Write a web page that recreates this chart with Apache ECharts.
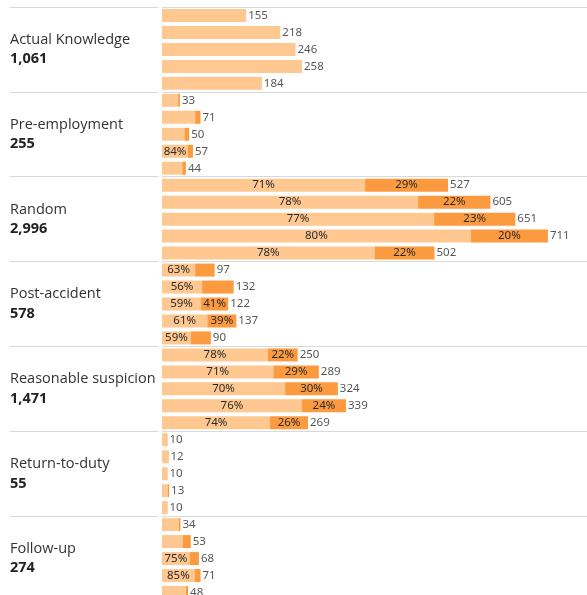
<!DOCTYPE html>
<html>
<head>
<meta charset="utf-8">
<script src="https://cdn.jsdelivr.net/npm/echarts@6/dist/echarts.min.js"></script>
<style>
html,body{margin:0;padding:0;background:#fff;overflow:hidden;}
#c{width:587px;height:602px;}
</style>
</head>
<body>
<div id="c"></div>
<script>
// ---- data ----
const groups = ['Actual Knowledge','Pre-employment','Random','Post-accident','Reasonable suspicion','Return-to-duty','Follow-up'];
const actualKnowledge = [155,218,246,258,184];
const preEmployment = [33,71,50,57,44];
const random = [527,605,651,711,502];
const postAccident = [97,132,122,137,90];
const reasonableSuspicion = [250,289,324,339,269];
const returnToDuty = [10,12,10,13,10];
const followUp = [34,53,68,71,48];
// share (%) of the lighter segment
const pctActualKnowledge = [100,100,100,100,100];
const pctPreEmployment = [90,86,83,84,85];
const pctRandom = [71,78,77,80,78];
const pctPostAccident = [63,56,59,61,59];
const pctReasonableSuspicion = [78,71,70,76,74];
const pctReturnToDuty = [90,88,90,85,90];
const pctFollowUp = [91,73,75,85,92];
// which percentage labels are displayed (1 = shown)
const lightShown = [[0,0,0,0,0],[0,0,0,1,0],[1,1,1,1,1],[1,1,1,1,1],[1,1,1,1,1],[0,0,0,0,0],[0,0,1,1,0]];
const darkShown  = [[0,0,0,0,0],[0,0,0,0,0],[1,1,1,1,1],[0,0,1,1,0],[1,1,1,1,1],[0,0,0,0,0],[0,0,0,0,0]];

const counts = [actualKnowledge,preEmployment,random,postAccident,reasonableSuspicion,returnToDuty,followUp];
const pcts = [pctActualKnowledge,pctPreEmployment,pctRandom,pctPostAccident,pctReasonableSuspicion,pctReturnToDuty,pctFollowUp];

const LIGHT = '#FFC891', DARK = '#FC9A3F';
const cats = [], lightData = [], darkData = [], totalData = [];
counts.forEach((arr, g) => {
  arr.forEach((v, i) => {
    const idx = cats.length;
    cats.push(g + '-' + i);
    const p = pcts[g][i];
    const lv = v * p / 100;
    lightData.push({value: lv, pct: p, label: {show: !!lightShown[g][i]}});
    darkData.push({value: v - lv, pct: 100 - p, label: {show: !!darkShown[g][i]}});
    totalData.push({value: [v, idx], total: v});
  });
});
const groupTotals = counts.map(a => a.reduce((s, x) => s + x, 0));

const labelFont = {fontFamily: 'Noto Sans', fontSize: 11.5, color: '#2a2a2a'};

const chart = echarts.init(document.getElementById('c'), null, {renderer: 'canvas'});
chart.setOption({
  animation: false,
  grid: [
    {left: 162, right: 0, top: 7, height: 594},
    {left: 10, width: 148, top: 7, height: 594}
  ],
  xAxis: [
    {type: 'value', min: 0, max: 783, show: false, gridIndex: 0},
    {type: 'value', min: 0, max: 1, show: false, gridIndex: 1}
  ],
  yAxis: [
    {type: 'category', data: cats, inverse: true, show: false, gridIndex: 0},
    {type: 'category', data: groups, inverse: true, gridIndex: 0,
      axisLine: {show: false}, axisTick: {show: false}, axisLabel: {show: false},
      splitLine: {show: true, lineStyle: {color: '#d9d9d9', width: 1}}},
    {type: 'category', data: groups, inverse: true, gridIndex: 1,
      axisLine: {show: false}, axisTick: {show: false},
      splitLine: {show: true, lineStyle: {color: '#d9d9d9', width: 1}},
      axisLabel: {
        inside: true, margin: 0, align: 'left',
        formatter: (val, i) => '{n|' + val + '}\n{v|' + groupTotals[i].toLocaleString('en-US') + '}',
        rich: {
          n: {fontFamily: 'Open Sans', fontSize: 14.5, color: '#333', lineHeight: 19.5},
          v: {fontFamily: 'Open Sans', fontSize: 14.5, fontWeight: 'bold', color: '#222', lineHeight: 19.5}
        }
      }}
  ],
  series: [
    {type: 'bar', stack: 'a', xAxisIndex: 0, yAxisIndex: 0, barWidth: 13, data: lightData,
      itemStyle: {color: LIGHT},
      label: Object.assign({position: 'inside', formatter: p => p.data.pct + '%'}, labelFont)},
    {type: 'bar', stack: 'a', xAxisIndex: 0, yAxisIndex: 0, barWidth: 13, data: darkData,
      itemStyle: {color: DARK},
      label: Object.assign({position: 'inside', formatter: p => p.data.pct + '%'}, labelFont)},
    {type: 'scatter', xAxisIndex: 0, yAxisIndex: 0, data: totalData, symbolSize: 1,
      itemStyle: {color: 'rgba(0,0,0,0)'},
      label: Object.assign({show: true, position: 'right', distance: 1.5, formatter: p => p.data.total}, labelFont)}
  ]
});
</script>
</body>
</html>
